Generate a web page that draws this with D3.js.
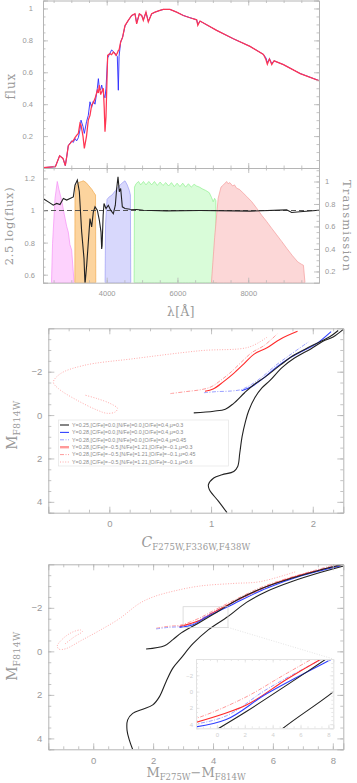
<!DOCTYPE html>
<html>
<head>
<meta charset="utf-8">
<script src="https://cdn.jsdelivr.net/npm/d3@7"></script>
<style>
  body { margin: 0; background: #fff; }
</style>
</head>
<body>
<div id="chart"></div>
<script>
// spectrum (panel 1)
var lam = [2200, 2550, 2670, 2765, 2830, 2870, 2915, 3010, 3057, 3104, 3150, 3199, 3245, 3274, 3330, 3368, 3430, 3480, 3528, 3575, 3622, 3670, 3736, 3765, 3792, 3830, 3858, 3905, 3930, 3952, 3980, 4027, 4093, 4140, 4187, 4235, 4263, 4300, 4329, 4350, 4395, 4450, 4517, 4610, 4706, 4800, 4847, 4922, 4990, 5035, 5110, 5176, 5270, 5365, 5506, 5600, 5789, 5977, 6166, 6354, 6543, 6575, 6637, 7108, 7580, 8050, 8430, 8500, 8540, 8600, 8665, 8730, 8995, 9470, 10000];
var fluxRed = [0.002, 0.008, 0.077, 0.06, 0.015, 0.07, 0.14, 0.165, 0.172, 0.19, 0.205, 0.217, 0.28, 0.27, 0.2, 0.123, 0.2, 0.3, 0.33, 0.394, 0.41, 0.435, 0.4875, 0.47, 0.519, 0.46, 0.477, 0.5, 0.38, 0.227, 0.32, 0.706, 0.717, 0.71, 0.727, 0.715, 0.706, 0.72, 0.737, 0.74, 0.79, 0.82, 0.893, 0.925, 0.956, 0.967, 0.904, 0.967, 0.956, 0.925, 0.977, 0.915, 0.967, 0.977, 0.988, 0.994, 0.994, 0.977, 0.956, 0.942, 0.929, 0.894, 0.921, 0.8625, 0.81, 0.7625, 0.712, 0.68, 0.65, 0.684, 0.648, 0.672, 0.648, 0.592, 0.548];
var fluxBlue = [0.002, 0.008, 0.077, 0.06, 0.015, 0.07, 0.14, 0.17, 0.16, 0.185, 0.17, 0.19, 0.24, 0.3, 0.26, 0.217, 0.29, 0.33, 0.415, 0.38, 0.42, 0.4, 0.5, 0.56, 0.5, 0.49, 0.52, 0.47, 0.45, 0.44, 0.5, 0.69, 0.72, 0.74, 0.73, 0.72, 0.71, 0.7, 0.4875, 0.7, 0.79, 0.82, 0.89, 0.925, 0.956, 0.965, 0.91, 0.965, 0.956, 0.93, 0.975, 0.92, 0.965, 0.977, 0.988, 0.994, 0.994, 0.977, 0.956, 0.942, 0.929, 0.9, 0.921, 0.8625, 0.81, 0.7625, 0.712, 0.69, 0.66, 0.684, 0.655, 0.672, 0.648, 0.592, 0.548];

// 2.5 log(flux) ratio (panel 2)
var lamRatio = [2200, 2350, 2490, 2586, 2680, 2775, 2870, 2963, 3057, 3104, 3170, 3227, 3293, 3359, 3387, 3434, 3481, 3528, 3575, 3622, 3670, 3735, 3792, 3839, 3858, 3870, 3900, 3924, 3980, 4046, 4112, 4188, 4244, 4282, 4320, 4357, 4395, 4442, 4517, 4659, 4847, 5035, 5695, 6637, 7580, 8050, 9086, 9227, 9463, 10000];
var ratio = [1.075, 1.054, 1.033, 1.044, 1.0375, 1.075, 1.065, 1.075, 1.085, 1.158, 1.19, 1.117, 0.867, 0.7, 0.54, 0.658, 0.804, 0.95, 0.898, 0.99, 1.023, 1.002, 0.94, 0.867, 0.76, 0.78, 0.971, 1.044, 1.0125, 1.033, 1.002, 0.98, 1.033, 1.1375, 1.21, 1.117, 1.1375, 1.023, 1.0125, 1.008, 1.006, 1.002, 0.998, 1.0, 0.998, 0.996, 1.004, 0.9875, 0.992, 1.002];

// filter transmission curves [lambda, T]
var F275W = [[2440, 0.1], [2470, 0.45], [2540, 0.85], [2604, 1.0], [2650, 0.93], [2728, 0.83], [2800, 0.71], [2870, 0.6], [2915, 0.55], [2960, 0.44], [3010, 0.39], [3050, 0.22], [3080, 0.1]];
var F336W = [[3100, 0.1], [3104, 0.86], [3130, 0.96], [3200, 0.99], [3290, 1.0], [3340, 1.006], [3420, 0.99], [3500, 0.96], [3580, 0.93], [3640, 0.9], [3685, 0.88], [3692, 0.1]];
var F438W = [[3955, 0.1], [3968, 0.62], [4010, 0.84], [4060, 0.86], [4150, 0.88], [4250, 0.92], [4350, 0.96], [4450, 0.99], [4517, 1.006], [4580, 0.97], [4640, 0.92], [4670, 0.88], [4680, 0.1]];
var F606W = [[4775, 0.1], [4785, 0.95], [4830, 0.98], [4900, 1.0], [4960, 0.97], [5040, 1.0], [5110, 0.97], [5190, 1.0], [5270, 0.97], [5350, 1.0], [5430, 0.965], [5510, 0.995], [5590, 0.965], [5670, 0.99], [5750, 0.96], [5830, 0.99], [5910, 0.955], [5990, 0.985], [6070, 0.955], [6150, 0.985], [6230, 0.95], [6310, 0.98], [6390, 0.95], [6470, 0.975], [6540, 0.96], [6620, 0.95], [6700, 0.935], [6800, 0.92], [6900, 0.9], [6960, 0.86], [7010, 0.82], [7050, 0.85], [7085, 0.83], [7100, 0.1]];
var F814W = [[6960, 0.1], [7050, 0.5], [7150, 0.85], [7230, 0.95], [7300, 0.97], [7390, 1.0], [7430, 0.98], [7480, 0.99], [7560, 0.96], [7610, 0.97], [7673, 0.94], [7750, 0.93], [7850, 0.9], [7956, 0.867], [8100, 0.82], [8238, 0.763], [8380, 0.7], [8521, 0.644], [8660, 0.585], [8803, 0.526], [8950, 0.465], [9086, 0.407], [9250, 0.34], [9400, 0.285], [9500, 0.265], [9560, 0.255], [9604, 0.1]];

// panel 3: C_F275W,F336W,F438W vs M_F814W
var c_Y25_rgb = [[1.157, 4.5], [1.072, 3.97], [0.984, 3.44], [0.974, 3.21], [1.026, 2.9], [1.108, 2.75], [1.223, 2.6], [1.262, 2.37], [1.282, 1.76], [1.305, 0.99], [1.338, 0.3], [1.37, -0.2], [1.43, -0.8], [1.5, -1.25], [1.58, -1.6], [1.7, -2.2], [1.82, -2.63], [1.98, -3.05], [2.1, -3.4], [2.2, -3.6], [2.3, -3.95]];
var c_Y25_agb = [[0.83, -0.1], [1.026, -0.18], [1.14, -0.27], [1.22, -0.53], [1.33, -1.03], [1.42, -1.4], [1.53, -1.75], [1.68, -2.3], [1.8, -2.72], [1.95, -3.1], [2.08, -3.4], [2.17, -3.62], [2.25, -3.9]];
var c_Y28_mu30 = [[1.3, -1.12], [1.4, -1.32], [1.51, -1.68], [1.64, -2.2], [1.77, -2.62], [1.9, -2.95], [2.03, -3.27], [2.18, -3.85]];
var c_Y28_mu45 = [[0.93, -1.03], [1.05, -1.08], [1.2, -1.11], [1.3, -1.18], [1.4, -1.42], [1.5, -1.75], [1.63, -2.27], [1.76, -2.72], [1.96, -3.38]];
var c_CNO_mu30 = [[0.94, -1.1], [1.02, -1.2], [1.12, -1.53], [1.22, -1.91], [1.32, -2.35], [1.42, -2.8], [1.55, -3.1], [1.68, -3.5], [1.85, -3.86]];
var c_CNO_mu45 = [[0.6, -0.99], [0.75, -1.08], [0.9, -1.17], [1.0, -1.3], [1.1, -1.62], [1.2, -2.0], [1.3, -2.45], [1.4, -2.88], [1.52, -3.2], [1.65, -3.74]];
var c_CNO_mu60 = [[1.55, -3.59], [1.37, -3.13], [0.9, -2.97], [0.24, -2.6], [-0.25, -2.29], [-0.48, -1.91], [-0.55, -1.52], [-0.5, -1.22], [-0.32, -0.69], [-0.12, -0.23], [-0.02, -0.08], [0.06, -0.15], [0.08, -0.31], [0.01, -0.53], [-0.12, -0.76], [-0.24, -0.92]];

// panel 4: M_F275W - M_F814W vs M_F814W
var m_Y25_rgb = [[1.318, 4.51], [1.207, 4.08], [1.128, 3.62], [1.15, 3.15], [1.318, 2.85], [1.654, 2.66], [1.989, 2.46], [2.212, 2.08], [2.436, 1.38], [2.659, 0.77], [2.939, 0.3], [3.33, -0.35], [3.85, -1.0], [4.5, -1.6], [5.117, -2.25], [5.788, -2.75], [6.682, -3.23], [7.575, -3.62], [8.36, -3.92]];
var m_Y25_agb = [[1.765, -0.11], [2.38, -0.26], [2.66, -0.54], [2.94, -0.85], [3.55, -1.33], [4.22, -1.88], [4.89, -2.43], [5.79, -2.98], [6.68, -3.38], [7.58, -3.74], [8.36, -4.0]];
var m_Y28_mu30 = [[2.88, -1.1], [3.33, -1.22], [3.78, -1.58], [4.67, -2.17], [5.79, -2.9], [6.9, -3.45], [8.25, -3.92]];
var m_Y28_mu45 = [[2.1, -1.03], [2.5, -1.1], [2.9, -1.14], [3.33, -1.27], [3.78, -1.64], [4.67, -2.24], [5.79, -2.95], [6.9, -3.5], [8.2, -3.96]];
var m_CNO_mu30 = [[2.88, -1.14], [3.55, -1.42], [4.0, -1.78], [4.67, -2.26], [5.79, -2.98], [6.9, -3.5], [8.25, -3.96]];
var m_CNO_mu45 = [[2.1, -1.06], [2.5, -1.15], [2.9, -1.2], [3.5, -1.5], [4.0, -1.86], [4.67, -2.33], [5.79, -3.04], [8.1, -3.99]];
var m_CNO_mu60 = [[6.74, -3.65], [5.56, -3.2], [4.67, -3.12], [3.55, -3.0], [2.66, -2.76], [2.0, -2.5], [1.54, -2.2], [0.87, -1.5], [0.2, -0.95], [-0.4, -0.5], [-0.92, -0.12], [-1.14, -0.1], [-1.2, -0.25], [-1.0, -0.6], [-0.7, -0.88], [-0.42, -0.98], [-0.36, -0.92], [-0.64, -0.66], [-0.97, -0.31]];

var legendLabels = [
  "Y=0.25,[C/Fe]=0.0,[N/Fe]=0.0,[O/Fe]=0.4,\u03bc=0.3",
  "Y=0.28,[C/Fe]=0.0,[N/Fe]=0.0,[O/Fe]=0.4,\u03bc=0.3",
  "Y=0.28,[C/Fe]=0.0,[N/Fe]=0.0,[O/Fe]=0.4,\u03bc=0.45",
  "Y=0.28,[C/Fe]=\u22120.5,[N/Fe]=1.21,[O/Fe]=\u22120.1,\u03bc=0.3",
  "Y=0.28,[C/Fe]=\u22120.5,[N/Fe]=1.21,[O/Fe]=\u22120.1,\u03bc=0.45",
  "Y=0.28,[C/Fe]=\u22120.5,[N/Fe]=1.21,[O/Fe]=\u22120.1,\u03bc=0.6"
];

var W = 357, H = 783;
var frameCol = "#b5b5b5", labCol = "#999", serif = "'DejaVu Serif', serif", sans = "'Liberation Sans', Arial, sans-serif";

var svg = d3.select("#chart").append("svg").attr("width", W).attr("height", H);

// styles of the isochrones, same order as legend
var isoStyle = [
  { stroke: "#222", width: 1.1, dash: null },
  { stroke: "#3040ff", width: 1.1, dash: null },
  { stroke: "#9aa0ff", width: 1, dash: "4,1.5,1,1.5" },
  { stroke: "#ff2b2b", width: 1.1, dash: null },
  { stroke: "#ff9a9a", width: 1, dash: "4,1.5,1,1.5" },
  { stroke: "#ffaaaa", width: 1, dash: "1,1.6" }
];

function range(a, b, s) {
  var out = [];
  for (var v = a; v <= b + 1e-9; v += s) out.push(+v.toFixed(4));
  return out;
}

// frame with inward major/minor ticks on all sides
function frame(g, x, y, o) {
  var x0 = x.range()[0], x1 = x.range()[1], yb = Math.max.apply(null, y.range()), yt = Math.min.apply(null, y.range());
  var big = o.big || 5, small = o.small || 2.5, col = o.col || frameCol;
  var fmt = o.fmt || d3.format("");

  function put(axis, tr, labels, pad) {
    var a = g.append("g").attr("transform", tr).call(axis.tickSize(-big).tickPadding(pad || 5).tickFormat(labels ? fmt : ""));
    a.select(".domain").attr("stroke", col);
    a.selectAll("line").attr("stroke", col).attr("stroke-width", 0.8);
    a.selectAll("text").attr("fill", o.labCol || labCol).attr("font-family", sans).attr("font-size", o.fs || 8);
    return a;
  }
  function minor(axis, tr) {
    var a = g.append("g").attr("transform", tr).call(axis.tickSize(-small).tickFormat(""));
    a.select(".domain").remove();
    a.selectAll("line").attr("stroke", col).attr("stroke-width", 0.8);
  }
  minor(d3.axisBottom(x).tickValues(o.xMinor), "translate(0," + yb + ")");
  minor(d3.axisTop(x).tickValues(o.xMinor), "translate(0," + yt + ")");
  minor(d3.axisLeft(y).tickValues(o.yMinor), "translate(" + x0 + ",0)");
  put(d3.axisBottom(x).tickValues(o.xMajor), "translate(0," + yb + ")", o.xLabels, o.xPad);
  put(d3.axisTop(x).tickValues(o.xMajor), "translate(0," + yt + ")", false);
  put(d3.axisLeft(y).tickValues(o.yMajor), "translate(" + x0 + ",0)", true, o.yPad);
  if (!o.noRight) {
    minor(d3.axisRight(y).tickValues(o.yMinor), "translate(" + x1 + ",0)");
    put(d3.axisRight(y).tickValues(o.yMajor), "translate(" + x1 + ",0)", false);
  }
}

function clip(id, x, y) {
  var r = [x.range(), y.range()];
  svg.append("clipPath").attr("id", id).append("rect")
    .attr("x", Math.min(r[0][0], r[0][1])).attr("y", Math.min(r[1][0], r[1][1]))
    .attr("width", Math.abs(r[0][1] - r[0][0])).attr("height", Math.abs(r[1][1] - r[1][0]));
  return "url(#" + id + ")";
}

// ---------- panel 1: flux ----------
var xl = d3.scaleLinear().domain([2200, 10000]).range([43, 319]);
var yf = d3.scaleLinear().domain([0, 1.05]).range([168, 0.5]);
var g1 = svg.append("g");
var p1 = g1.append("g").attr("clip-path", clip("c1", xl, yf));
var specLine = d3.line().x(function (d) { return xl(d[0]); }).y(function (d) { return yf(d[1]); });
p1.append("path").datum(lam.map(function (l, i) { return [l, fluxBlue[i]]; }))
  .attr("d", specLine).attr("fill", "none").attr("stroke", "#2a2aff").attr("stroke-width", 0.9);
p1.append("path").datum(lam.map(function (l, i) { return [l, fluxRed[i]]; }))
  .attr("d", specLine).attr("fill", "none").attr("stroke", "#ff3552").attr("stroke-width", 1.25);
frame(g1, xl, yf, { xMajor: [4000, 6000, 8000], xMinor: range(2500, 9500, 500), yMajor: [0.2, 0.4, 0.6, 0.8, 1], yMinor: range(0.05, 1.05, 0.05), xLabels: false, yPad: 10, fs: 7.5 });
g1.append("text").attr("transform", "translate(15,86) rotate(-90)").attr("text-anchor", "middle")
  .attr("font-family", serif).attr("font-size", 12).attr("letter-spacing", 1).attr("fill", labCol).text("flux");

// ---------- panel 2: log ratio + filters ----------
var yr = d3.scaleLinear().domain([0.55, 1.265]).range([282.7, 168]);
var yT = d3.scaleLinear().domain([0.1, 1.12]).range([282.7, 168]);
var g2 = svg.append("g");
var p2 = g2.append("g").attr("clip-path", clip("c2", xl, yr));
var filters = [
  { data: F275W, fill: "#fdd2fd", stroke: "#f590f5" },
  { data: F336W, fill: "#fcd49e", stroke: "#f0aa50" },
  { data: F438W, fill: "#d8d8fc", stroke: "#9c9cf5" },
  { data: F606W, fill: "#d9fcd9", stroke: "#90f090" },
  { data: F814W, fill: "#fcd7d7", stroke: "#f59c9c" }
];
var fArea = d3.area().x(function (d) { return xl(d[0]); }).y0(yT(0.1)).y1(function (d) { return yT(d[1]); });
filters.forEach(function (f) {
  p2.append("path").datum(f.data).attr("d", fArea).attr("fill", f.fill).attr("stroke", f.stroke).attr("stroke-width", 0.7);
});
p2.append("line").attr("x1", xl(2200)).attr("x2", xl(10000)).attr("y1", yr(1)).attr("y2", yr(1))
  .attr("stroke", "#444").attr("stroke-width", 0.9).attr("stroke-dasharray", "5,3");
p2.append("path").datum(lamRatio.map(function (l, i) { return [l, ratio[i]]; }))
  .attr("d", d3.line().x(function (d) { return xl(d[0]); }).y(function (d) { return yr(d[1]); }))
  .attr("fill", "none").attr("stroke", "#222").attr("stroke-width", 1.1);
frame(g2, xl, yr, { xMajor: [4000, 6000, 8000], xMinor: range(2500, 9500, 500), yMajor: [0.6, 0.8, 1, 1.2], yMinor: range(0.55, 1.25, 0.05), xLabels: true, xPad: 8, yPad: 8, noRight: true, fs: 7.5 });
(function () {
  var a = g2.append("g").attr("transform", "translate(319,0)")
    .call(d3.axisRight(yT).tickValues([0.2, 0.4, 0.6, 0.8, 1]).tickSize(-5).tickPadding(6).tickFormat(d3.format("")));
  a.select(".domain").attr("stroke", frameCol);
  a.selectAll("line").attr("stroke", frameCol).attr("stroke-width", 0.8);
  a.selectAll("text").attr("fill", labCol).attr("font-family", sans).attr("font-size", 7.5);
  var m = g2.append("g").attr("transform", "translate(319,0)")
    .call(d3.axisRight(yT).tickValues(range(0.15, 1.1, 0.05)).tickSize(-2.5).tickFormat(""));
  m.select(".domain").remove();
  m.selectAll("line").attr("stroke", frameCol).attr("stroke-width", 0.8);
})();
g2.append("text").attr("transform", "translate(13,226) rotate(-90)").attr("text-anchor", "middle")
  .attr("font-family", serif).attr("font-size", 11.5).attr("letter-spacing", 0.6).attr("fill", labCol).text("2.5 log(flux)");
g2.append("text").attr("transform", "translate(343,226) rotate(90)").attr("text-anchor", "middle")
  .attr("font-family", serif).attr("font-size", 11.5).attr("letter-spacing", 1.2).attr("fill", labCol).text("Transmission");
g2.append("text").attr("x", 181).attr("y", 316).attr("text-anchor", "middle")
  .attr("font-family", serif).attr("font-size", 12).attr("letter-spacing", 0.6).attr("fill", labCol).text("\u03bb[\u00c5]");

// ---------- isochrone drawing ----------
function drawIso(g, x, y, series, clipUrl) {
  var lineFree = d3.line().x(function (d) { return x(d[0]); }).y(function (d) { return y(d[1]); }).curve(d3.curveCatmullRom.alpha(0.5));
  var p = g.append("g").attr("clip-path", clipUrl);
  // draw order: dotted, dashed, then solids
  [5, 4, 2, 3, 1, 0].forEach(function (k) {
    series[k].forEach(function (s) {
      var st = isoStyle[k];
      p.append("path").datum(s).attr("d", lineFree).attr("fill", "none")
        .attr("stroke", st.stroke).attr("stroke-width", st.width)
        .attr("stroke-dasharray", st.dash).attr("stroke-linejoin", "round");
    });
  });
}

// ---------- panel 3 ----------
var x3 = d3.scaleLinear().domain([-0.6, 2.3]).range([48.3, 343.3]);
var y3 = d3.scaleLinear().domain([-4, 4.5]).range([328.3, 512.7]);
var g3 = svg.append("g");
drawIso(g3, x3, y3, [[c_Y25_rgb, c_Y25_agb], [c_Y28_mu30], [c_Y28_mu45], [c_CNO_mu30], [c_CNO_mu45], [c_CNO_mu60]], clip("c3", x3, y3));
frame(g3, x3, y3, { xMajor: [0, 1, 2], xMinor: range(-0.6, 2.2, 0.2), yMajor: [-2, 0, 2, 4], yMinor: range(-3.5, 4.5, 0.5), xLabels: true, xPad: 7.5, yPad: 6, big: 6, small: 3, fs: 9.5 });

// legend
var leg = g3.append("g");
leg.append("rect").attr("x", 58.5).attr("y", 420).attr("width", 170).attr("height", 46)
  .attr("fill", "#fff").attr("stroke", "#e4e4e4").attr("stroke-width", 0.7);
legendLabels.forEach(function (t, i) {
  var yy = 425 + i * 7.4, st = isoStyle[i];
  leg.append("line").attr("x1", 60).attr("x2", 69).attr("y1", yy).attr("y2", yy)
    .attr("stroke", i === 3 ? "#ff9a9a" : st.stroke).attr("stroke-width", i === 3 ? 2.4 : st.width)
    .attr("stroke-dasharray", st.dash);
  leg.append("text").attr("x", 72).attr("y", yy + 1.8).attr("font-family", sans).attr("font-size", 5.3)
    .attr("fill", "#8a8a8a").text(t);
});

var t3x = g3.append("text").attr("x", 196).attr("y", 547).attr("text-anchor", "middle").attr("font-family", serif).attr("fill", labCol);
t3x.append("tspan").attr("font-size", 14).attr("font-style", "italic").text("C");
t3x.append("tspan").attr("font-size", 8.5).attr("dy", 3).attr("letter-spacing", 0.2).text("F275W,F336W,F438W");
var t3y = g3.append("text").attr("transform", "translate(17,425) rotate(-90)").attr("text-anchor", "middle").attr("font-family", serif).attr("fill", labCol);
t3y.append("tspan").attr("font-size", 14).text("M");
t3y.append("tspan").attr("font-size", 9).attr("dy", 3).attr("letter-spacing", 0.5).text("F814W");

// ---------- panel 4 ----------
var x4 = d3.scaleLinear().domain([-1.5, 8.35]).range([48.3, 343.3]);
var y4 = d3.scaleLinear().domain([-4, 4.5]).range([564.3, 749.3]);
var g4 = svg.append("g");
var set4 = [[m_Y25_rgb, m_Y25_agb], [m_Y28_mu30], [m_Y28_mu45], [m_CNO_mu30], [m_CNO_mu45], [m_CNO_mu60]];
drawIso(g4, x4, y4, set4, clip("c4", x4, y4));
frame(g4, x4, y4, { xMajor: [0, 2, 4, 6, 8], xMinor: range(-1.5, 8, 0.5), yMajor: [-2, 0, 2, 4], yMinor: range(-3.5, 4.5, 0.5), xLabels: true, xPad: 7.5, yPad: 6, big: 6, small: 3, fs: 9.5 });

// zoom box and connector
var zx = [3, 4.5], zy = [-2.05, -1.1];
g4.append("rect").attr("x", x4(zx[0])).attr("y", y4(zy[0])).attr("width", x4(zx[1]) - x4(zx[0])).attr("height", y4(zy[1]) - y4(zy[0]))
  .attr("fill", "none").attr("stroke", "#d0d0d0").attr("stroke-width", 0.7);

// inset
var xi = d3.scaleLinear().domain(zx).range([196, 333.3]);
var yi = d3.scaleLinear().domain(zy).range([659, 728.3]);
var xiT = d3.scaleLinear().domain([-1.5, 8.35]).range([196, 333.3]);
var yiT = d3.scaleLinear().domain([-4, 4.5]).range([659, 728.3]);
g4.append("line").attr("x1", x4(zx[1])).attr("y1", y4(zy[1])).attr("x2", 333.3).attr("y2", 659)
  .attr("stroke", "#d8d8d8").attr("stroke-width", 0.7).attr("stroke-dasharray", "1,1.5");
var gi = g4.append("g");
gi.append("rect").attr("x", 196).attr("y", 659).attr("width", 137.3).attr("height", 69.3).attr("fill", "#fff");
drawIso(gi, xi, yi, set4, clip("ci", xi, yi));
frame(gi, xiT, yiT, { xMajor: [0, 2, 4, 6, 8], xMinor: range(-1.5, 8, 0.5), yMajor: [-2, 0, 2, 4], yMinor: range(-3.5, 4.5, 0.5), xLabels: true, xPad: 4, yPad: 3, big: 3.5, small: 2, fs: 6, col: "#e2e2e2", labCol: "#cfcfcf" });

var t4x = g4.append("text").attr("x", 196).attr("y", 777).attr("text-anchor", "middle").attr("font-family", serif).attr("fill", labCol);
t4x.append("tspan").attr("font-size", 13).text("M");
t4x.append("tspan").attr("font-size", 8.5).attr("dy", 3).text("F275W");
t4x.append("tspan").attr("font-size", 13).attr("dy", -3).text("\u2212M");
t4x.append("tspan").attr("font-size", 8.5).attr("dy", 3).text("F814W");
var t4y = g4.append("text").attr("transform", "translate(17,656) rotate(-90)").attr("text-anchor", "middle").attr("font-family", serif).attr("fill", labCol);
t4y.append("tspan").attr("font-size", 14).text("M");
t4y.append("tspan").attr("font-size", 9).attr("dy", 3).attr("letter-spacing", 0.5).text("F814W");
</script>
</body>
</html>
